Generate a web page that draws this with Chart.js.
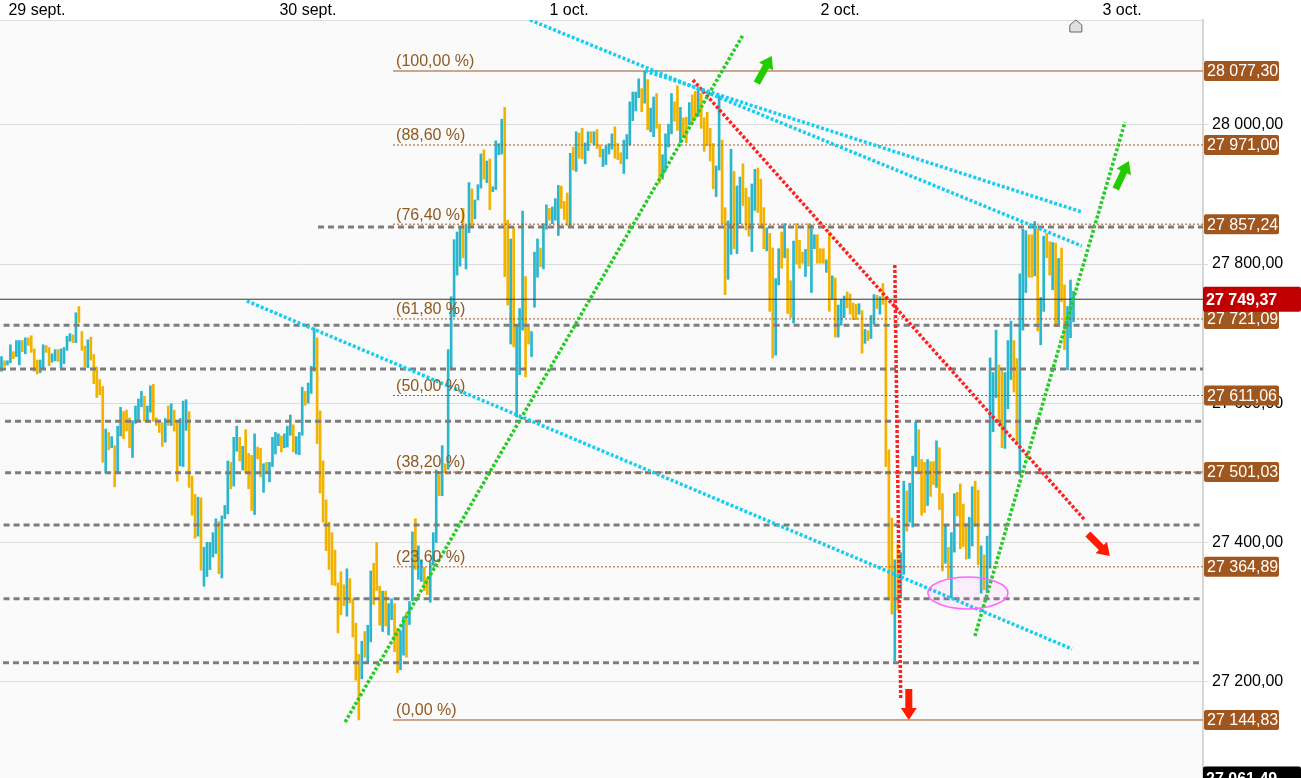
<!DOCTYPE html>
<html>
<head>
<meta charset="utf-8">
<script src="https://cdn.jsdelivr.net/npm/chart.js@4.4.0/dist/chart.umd.min.js"></script>
<style>
  html, body { margin: 0; padding: 0; background: #fff; }
  #wrap { width: 1301px; height: 778px; position: relative; }
</style>
</head>
<body>
<div id="wrap"><canvas id="chart"></canvas></div>
<script>
// 15 min bars, high / low / direction (1 = up, cyan; 0 = down, yellow)
const highs = [
  27667,27661,27661,27684,27674,27690,27690,27690,27694,27694,27697,27678,27662,27662,27684,27683,27680,27671,27677,27677,
  27678,27680,27696,27700,27698,27730,27739,27703,27682,27691,27695,27670,27652,27634,27624,27563,27558,27552,27539,27567,
  27594,27588,27590,27579,27575,27596,27606,27617,27610,27596,27625,27627,27579,27576,27572,27578,27596,27599,27590,27574,
  27578,27603,27605,27588,27495,27469,27465,27464,27393,27400,27400,27414,27434,27430,27438,27453,27517,27515,27551,27567,
  27551,27538,27562,27528,27525,27556,27537,27535,27513,27515,27515,27551,27558,27556,27553,27556,27567,27583,27569,27552,
  27558,27623,27617,27629,27653,27708,27694,27589,27517,27461,27429,27414,27389,27342,27358,27339,27362,27348,27319,27284,
  27239,27258,27272,27281,27359,27370,27400,27337,27330,27330,27312,27319,27312,27276,27273,27293,27299,27315,27415,27434,
  27395,27375,27364,27349,27372,27414,27504,27497,27539,27513,27677,27753,27835,27846,27853,27880,27856,27917,27908,27892,
  27914,27958,27964,27948,27951,27911,27977,27973,28008,28025,27863,27836,27853,27712,27736,27876,27782,27710,27703,27817,
  27836,27823,27858,27885,27880,27882,27894,27913,27912,27890,27902,27959,27968,27990,27988,27995,27974,27990,27990,27990,
  27993,27971,27965,27970,27973,27987,27997,27973,27960,27978,27986,28033,28047,28047,28066,28052,28077,28065,28024,28040,
  28045,28001,27957,27987,28001,28045,28033,28056,28025,28010,28011,28032,28043,28048,28054,28045,28010,28018,27995,27973,
  27941,28042,27978,27881,27862,27965,27933,27912,27925,27944,27909,27896,27915,27936,27938,27922,27881,27852,27844,27823,
  27779,27822,27846,27858,27822,27776,27833,27858,27834,27817,27821,27858,27856,27842,27842,27822,27822,27806,27845,27783,
  27780,27741,27749,27754,27760,27757,27744,27742,27743,27733,27706,27704,27726,27756,27755,27753,27772,27753,27533,27435,
  27375,27397,27385,27488,27474,27485,27524,27573,27562,27519,27515,27519,27516,27516,27546,27536,27470,27424,27393,27414,
  27470,27472,27484,27455,27427,27436,27480,27488,27475,27395,27382,27409,27665,27644,27705,27655,27647,27644,27690,27718,
  27690,27664,27786,27850,27848,27842,27842,27861,27851,27752,27840,27844,27832,27831,27830,27808,27823,27770,27739,27777,
  27761
];
const lows = [
  27646,27653,27655,27658,27664,27667,27655,27674,27671,27683,27673,27646,27642,27644,27651,27673,27654,27659,27661,27660,
  27651,27657,27676,27689,27687,27687,27716,27676,27652,27651,27662,27628,27608,27612,27515,27500,27533,27536,27480,27500,
  27553,27549,27560,27536,27522,27571,27575,27595,27574,27572,27587,27574,27568,27558,27538,27544,27568,27568,27560,27488,
  27510,27509,27561,27479,27439,27406,27409,27360,27337,27351,27361,27379,27384,27355,27349,27434,27441,27477,27481,27531,
  27517,27504,27500,27477,27446,27440,27520,27494,27472,27499,27487,27509,27527,27539,27530,27536,27537,27554,27530,27527,
  27526,27554,27597,27600,27614,27646,27542,27471,27429,27388,27361,27339,27338,27270,27296,27309,27294,27313,27264,27202,
  27145,27204,27235,27228,27257,27311,27331,27281,27272,27280,27267,27289,27243,27213,27217,27238,27235,27282,27316,27361,
  27347,27344,27331,27325,27314,27367,27400,27467,27467,27500,27505,27648,27724,27784,27797,27809,27793,27845,27853,27865,
  27892,27909,27922,27917,27878,27904,27907,27957,27958,27782,27741,27685,27681,27580,27641,27705,27638,27685,27667,27738,
  27781,27796,27793,27850,27863,27858,27863,27841,27880,27864,27855,27855,27935,27933,27952,27951,27944,27963,27974,27971,
  27966,27954,27940,27943,27958,27965,27952,27950,27944,27930,27951,27971,28006,28020,28039,28019,28031,27993,27990,27983,
  27995,27916,27922,27934,27968,27987,28005,27992,27974,27982,27974,28000,28002,28010,28012,27995,27962,27970,27948,27908,
  27897,27935,27858,27756,27778,27814,27822,27815,27858,27884,27849,27840,27818,27877,27874,27855,27822,27819,27732,27665,
  27669,27770,27794,27809,27729,27723,27715,27800,27794,27801,27782,27797,27759,27822,27801,27801,27801,27788,27732,27750,
  27695,27695,27712,27723,27737,27728,27720,27720,27728,27672,27686,27690,27693,27714,27736,27728,27742,27509,27317,27297,
  27230,27303,27320,27354,27416,27429,27422,27509,27501,27439,27443,27453,27466,27483,27479,27447,27359,27370,27349,27320,
  27386,27438,27391,27394,27376,27377,27395,27423,27368,27327,27332,27328,27363,27559,27608,27573,27536,27535,27592,27634,
  27616,27543,27497,27705,27759,27781,27781,27783,27704,27684,27732,27809,27784,27763,27710,27710,27746,27677,27648,27694,
  27717
];
const up = [
  1,0,1,1,0,1,1,0,1,0,0,0,0,1,1,0,0,1,1,0, 1,1,1,1,0,1,0,0,0,1,0,0,0,0,0,1,0,1,0,1,
  1,0,0,0,1,1,1,1,0,1,1,0,0,0,0,1,0,1,0,0, 1,1,1,0,0,0,1,0,1,1,1,1,1,0,1,1,1,0,1,1,
  0,1,0,0,0,1,0,0,1,0,1,1,1,1,0,1,1,1,0,1, 1,1,0,1,1,1,0,0,0,0,0,0,0,0,0,0,1,0,0,0,
  0,1,0,1,1,0,0,0,1,0,1,1,0,0,1,1,0,1,1,0, 1,1,0,0,1,1,1,0,1,0,1,1,1,1,1,0,1,1,0,1,
  1,1,0,1,0,1,1,1,1,0,0,1,0,1,1,1,0,0,1,1, 1,0,1,1,0,1,1,1,0,0,0,1,0,1,0,0,1,1,0,1,
  0,0,1,1,1,1,0,0,0,1,1,1,1,1,1,0,1,0,1,1, 0,0,1,1,1,1,0,0,1,0,0,1,0,0,1,0,0,0,0,0,
  1,1,0,0,1,1,0,1,1,0,0,0,1,1,0,0,0,1,0,0, 1,1,0,1,0,0,1,0,0,0,1,0,1,1,0,0,0,1,0,1,
  0,1,1,1,0,0,0,0,1,0,1,0,1,1,0,1,0,0,0,0, 1,0,1,1,0,1,1,1,0,0,0,1,0,0,1,0,0,1,0,1,
  1,0,0,0,0,1,1,0,0,1,0,1,1,1,1,0,0,1,1,1, 0,0,1,1,1,0,0,1,0,1,1,0,0,1,0,1,0,0,1,1,
  1
];

// day labels on the top axis (bar slot where the label sits)
const dayLabels = ["29 sept.", "30 sept.", "1 oct.", "2 oct.", "3 oct."];
const daySlots = [11.9, 102.9, 190.6, 281.6, 376.3];

// price axis
const yTicks = [27200, 27400, 27600, 27800, 28000];
const yMin = 27061.49;
const yMax = 28150.6;
const lastPrice = 27749.37;

// fibonacci retracement
const fibPct = ["100,00", "88,60", "76,40", "61,80", "50,00", "38,20", "23,60", "0,00"];
const fibVal = [28077.30, 27971.00, 27857.24, 27721.09, 27611.06, 27501.03, 27364.89, 27144.83];
const fibStart = 131.5;

// grey support / resistance levels and where they start
const levelVal = [27853, 27712, 27649, 27574, 27500, 27425, 27319, 27227];
const levelStart = [106.3, 0.7, -0.5, 1.2, 1.2, 0.7, 0.7, 0.5];

// trend lines: [x1, y1, x2, y2] in bar slots / price
const cyanLines = [
  [177.5, 28150.6, 362.8, 27825.9],
  [216.1, 28077.3, 362.8, 27874.7],
  [82.4, 27746.8, 359.5, 27246.8]
];
const greenLines = [
  [115.4, 27141.9, 249.0, 28129.0],
  [326.9, 27265.5, 377.3, 28004.0]
];
const redLines = [
  [232.2, 28064.4, 363.8, 27432.2],
  [300.0, 27798.6, 302.0, 27173.5]
];

// arrows: tip position and direction (degrees, screen)
const arrowX = [258.7, 378.6, 372.2, 304.7];
const arrowY = [28098.9, 27948.0, 27380.5, 27144.8];
const arrowAng = [-61, -65, 45, 90];
const arrowCol = ["#22cc00", "#22cc00", "#ff1a00", "#ff1a00"];

// ellipse around the double bottom
const ellX = [311.1, 338.0];
const ellY = [27350.3, 27304.3];

const slots = [-0.5, 403.5];

function fmt(v) {
  const parts = v.toFixed(2).split(".");
  return parts[0].replace(/\B(?=(\d{3})+(?!\d))/g, " ") + "," + parts[1];
}

const bars = highs.map((h, i) => ({ x: i, y: [lows[i], h] }));

const datasets = [];
datasets.push({
  type: "bar",
  data: bars,
  backgroundColor: up.map(u => u ? "#2ab6cc" : "#f2b300"),
  barThickness: 2,
  grouped: false,
  order: 5
});

function segment(pts, color, width, dash, order) {
  datasets.push({
    type: "line",
    data: [{ x: pts[0], y: pts[1] }, { x: pts[2], y: pts[3] }],
    borderColor: color,
    borderWidth: width,
    borderDash: dash,
    pointRadius: 0,
    fill: false,
    clip: 0,
    order: order
  });
}

levelVal.forEach((v, i) => segment([levelStart[i], v, slots[1], v], "#7d7d7d", 3, [6, 4], 4));
fibVal.forEach((v, i) => {
  const solid = i === 0 || i === fibVal.length - 1;
  segment([fibStart, v, slots[1], v], "#9c5523", 1, solid ? [] : [2, 2], 3);
});
segment([slots[0], lastPrice, slots[1], lastPrice], "#333333", 1, [], 3);
cyanLines.forEach(l => segment(l, "#18cdf0", 3.5, [3, 2], 1));
greenLines.forEach(l => segment(l, "#22cc22", 3.5, [3, 2], 1));
redLines.forEach(l => segment(l, "#ff2020", 3.5, [3, 2], 1));

function drawArrow(ctx, x, y, ang, color) {
  const a = ang * Math.PI / 180;
  const L = 31, H = 12, w = 3.5, hw = 8;
  const pts = [[-L, -w], [-H, -w], [-H, -hw], [0, 0], [-H, hw], [-H, w], [-L, w]];
  ctx.save();
  ctx.translate(x, y);
  ctx.rotate(a);
  ctx.beginPath();
  pts.forEach((p, i) => i ? ctx.lineTo(p[0], p[1]) : ctx.moveTo(p[0], p[1]));
  ctx.closePath();
  ctx.fillStyle = color;
  ctx.fill();
  ctx.restore();
}

function priceBox(ctx, x, y, w, h, fill, text, bold) {
  ctx.fillStyle = fill;
  ctx.beginPath();
  if (ctx.roundRect) ctx.roundRect(x, y - h / 2, w, h, 2); else ctx.rect(x, y - h / 2, w, h);
  ctx.fill();
  ctx.fillStyle = "#fff";
  ctx.font = (bold ? "bold " : "") + "16px 'Liberation Sans', Arial, sans-serif";
  ctx.textAlign = "left";
  ctx.textBaseline = "middle";
  ctx.fillText(text, x + 3, y + 1);
}

const overlay = {
  id: "overlay",
  beforeDraw(chart) {
    const a = chart.chartArea;
    const ctx = chart.ctx;
    ctx.save();
    ctx.fillStyle = "#fff";
    ctx.fillRect(0, 0, chart.width, chart.height);
    ctx.fillStyle = "#fafafa";
    ctx.fillRect(a.left, a.top, a.right - a.left, a.bottom - a.top);
    ctx.restore();
  },
  afterDatasetsDraw(chart) {
    const ctx = chart.ctx;
    const xs = chart.scales.x, ys = chart.scales.y;
    ctx.save();
    // fib labels
    ctx.font = "16px 'Liberation Sans', Arial, sans-serif";
    ctx.fillStyle = "#8e5a22";
    ctx.textAlign = "left";
    ctx.textBaseline = "bottom";
    fibVal.forEach((v, i) => {
      ctx.fillText("(" + fibPct[i] + " %)", xs.getPixelForValue(fibStart) + 3, ys.getPixelForValue(v) - 1);
    });
    // ellipse
    const ex1 = xs.getPixelForValue(ellX[0]), ex2 = xs.getPixelForValue(ellX[1]);
    const ey1 = ys.getPixelForValue(ellY[0]), ey2 = ys.getPixelForValue(ellY[1]);
    ctx.beginPath();
    ctx.ellipse((ex1 + ex2) / 2, (ey1 + ey2) / 2, (ex2 - ex1) / 2, (ey2 - ey1) / 2, 0, 0, Math.PI * 2);
    ctx.fillStyle = "rgba(255,90,255,0.07)";
    ctx.fill();
    ctx.strokeStyle = "#ff66ff";
    ctx.lineWidth = 1.5;
    ctx.stroke();
    // arrows
    arrowX.forEach((x, i) => {
      drawArrow(ctx, xs.getPixelForValue(x), ys.getPixelForValue(arrowY[i]), arrowAng[i], arrowCol[i]);
    });
    // small home marker at the top
    const hx = xs.getPixelForValue(360.8), hy = chart.chartArea.top;
    ctx.beginPath();
    ctx.moveTo(hx - 6, hy + 12);
    ctx.lineTo(hx - 6, hy + 5);
    ctx.lineTo(hx, hy);
    ctx.lineTo(hx + 6, hy + 5);
    ctx.lineTo(hx + 6, hy + 12);
    ctx.closePath();
    ctx.fillStyle = "#e0e0e0";
    ctx.fill();
    ctx.strokeStyle = "#666";
    ctx.lineWidth = 1;
    ctx.stroke();
    ctx.restore();
  },
  afterDraw(chart) {
    const ctx = chart.ctx;
    const ys = chart.scales.y;
    const left = chart.chartArea.right;
    ctx.save();
    fibVal.forEach(v => priceBox(ctx, left + 1, ys.getPixelForValue(v), 75, 20, "#a0561f", fmt(v), false));
    priceBox(ctx, left, ys.getPixelForValue(lastPrice), 98, 25, "#c00000", fmt(lastPrice), true);
    priceBox(ctx, left, chart.chartArea.bottom + 1, 98, 25, "#000000", fmt(yMin), true);
    ctx.restore();
  }
};

Chart.defaults.font.family = "'Liberation Sans', Arial, sans-serif";
Chart.defaults.font.size = 16;
Chart.defaults.color = "#000";

new Chart(document.getElementById("chart"), {
  type: "bar",
  data: { datasets: datasets },
  options: {
    responsive: true,
    maintainAspectRatio: false,
    animation: false,
    layout: { padding: 0 },
    plugins: { legend: { display: false }, tooltip: { enabled: false } },
    scales: {
      x: {
        type: "linear",
        position: "top",
        min: slots[0],
        max: slots[1],
        offset: false,
        grid: { display: false, drawTicks: false },
        border: { display: true, color: "#dddddd", width: 1 },
        ticks: {
          padding: 0,
          autoSkip: false,
          maxRotation: 0,
          callback: (v, i) => dayLabels[i]
        },
        afterBuildTicks: s => { s.ticks = daySlots.map(v => ({ value: v })); },
        afterFit: s => { s.height = 20; s.paddingLeft = 0; s.paddingRight = 0; }
      },
      y: {
        position: "right",
        min: yMin,
        max: yMax,
        grid: { color: "#dcdcdc", tickLength: 5 },
        border: { display: true, color: "#d6d6d6", width: 2 },
        ticks: { padding: 4, callback: v => fmt(v) },
        afterBuildTicks: s => { s.ticks = yTicks.map(v => ({ value: v })); },
        afterFit: s => { s.width = 98; s.paddingTop = 0; s.paddingBottom = 0; }
      }
    }
  },
  plugins: [overlay]
});
</script>
</body>
</html>
